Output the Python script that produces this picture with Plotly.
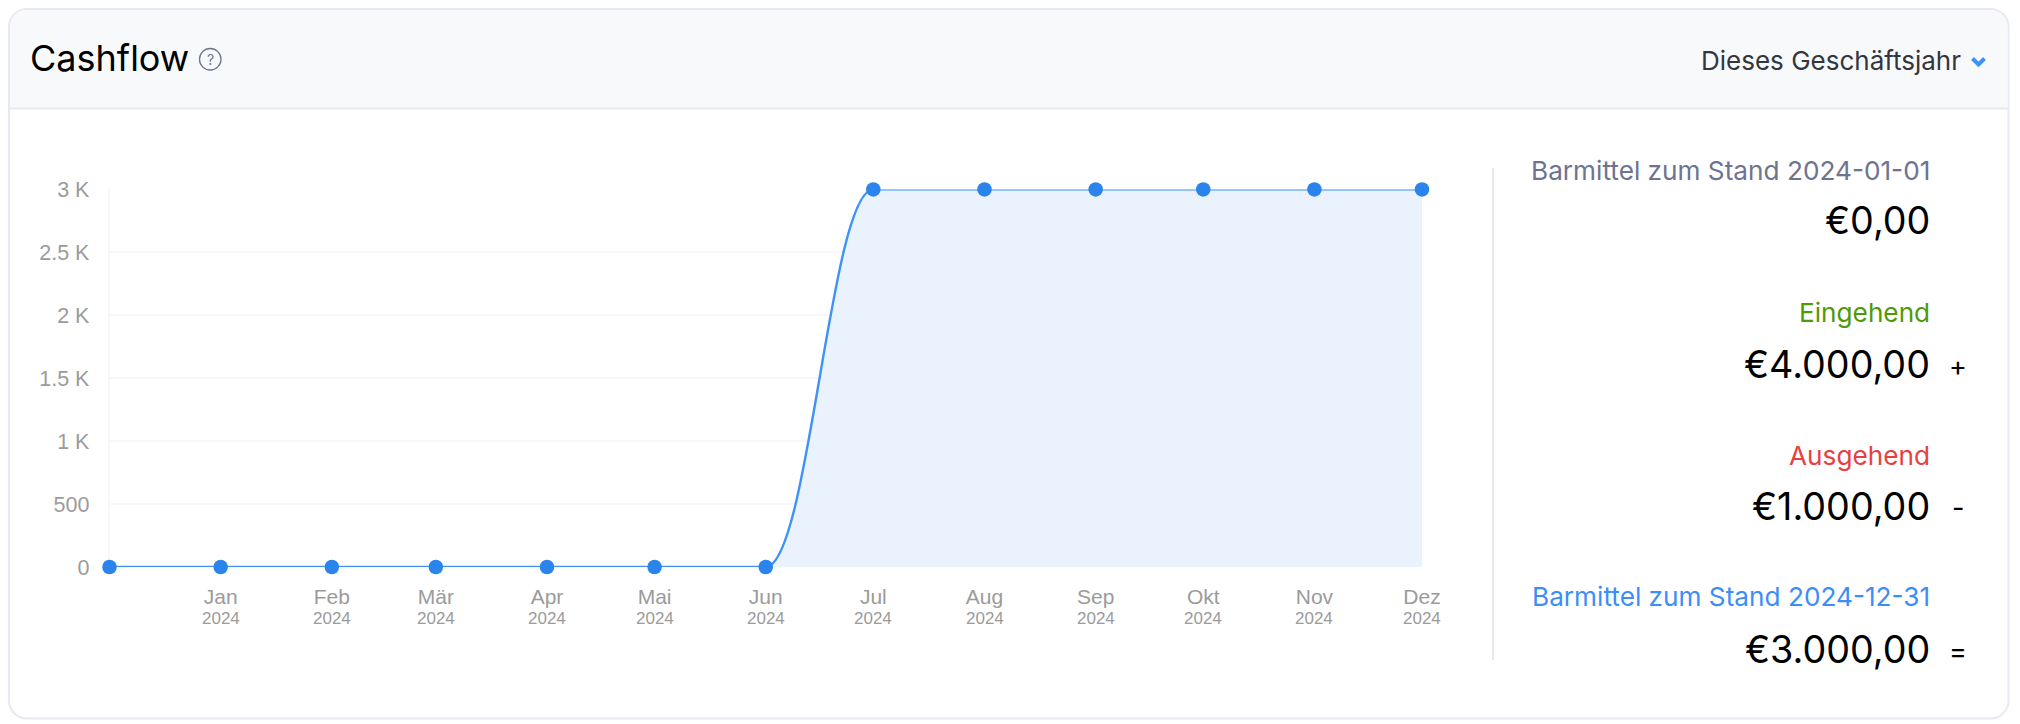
from datetime import datetime, timedelta
import plotly.graph_objects as go

W, H = 2020, 724

# ---------- data ----------
dates = ["2023-12-01", "2024-01-01", "2024-02-01", "2024-03-01", "2024-04-01", "2024-05-01", "2024-06-01",
         "2024-07-01", "2024-08-01", "2024-09-01", "2024-10-01", "2024-11-01", "2024-12-01"]
cash = [0, 0, 0, 0, 0, 0, 0, 3000, 3000, 3000, 3000, 3000, 3000]
tick_dates = dates[1:]
months = ["Jan", "Feb", "Mär", "Apr", "Mai", "Jun", "Jul", "Aug", "Sep", "Okt", "Nov", "Dez"]
tick_year = "2024"
y_ticks = [0, 500, 1000, 1500, 2000, 2500, 3000]
y_labels = ["0", "500", "1 K", "1.5 K", "2 K", "2.5 K", "3 K"]

stat_labels = ["Barmittel zum Stand 2024-01-01", "Eingehend", "Ausgehend", "Barmittel zum Stand 2024-12-31"]
stat_values = ["€0,00", "€4.000,00", "€1.000,00", "€3.000,00"]
stat_ops = ["", "+", "-", "="]
stat_colors = ["#6d7390", "#4f9a06", "#e8403f", "#3b8ef8"]

# ---------- style ----------
LINE = "#3f92f7"
DOT = "#2a84ec"
FILL = "#eaf2fe"
BORDER = "#e8e9f1"
GRID = "#f7f7f8"
TICK = "#9b9b9b"
UI = "Inter"
AX = "Liberation Sans"
HANDLE = 0.4


def px(x):
    return x / W


def py(y):
    return 1 - y / H


def curve_commands():
    """Cubic path through the data with flat-ended segments; coordinates stay in data units."""
    t = [datetime.fromisoformat(d) for d in dates]
    fmt = lambda d: d.strftime("%Y-%m-%d_%H:%M:%S")
    out = []
    for i in range(1, len(t)):
        h = (t[i] - t[i - 1]).total_seconds()
        a = t[i - 1] + timedelta(seconds=h * HANDLE)
        b = t[i] - timedelta(seconds=h * HANDLE)
        out.append(f"C {fmt(a)},{cash[i-1]} {fmt(b)},{cash[i]} {fmt(t[i])},{cash[i]}")
    return " ".join(out)


line_path = f"M {dates[0]}_00:00:00,{cash[0]} " + curve_commands()
area_path = line_path + f" L {dates[-1]}_00:00:00,0 Z"


def rounded(x0, y0, x1, y1, r, top_only=False):
    k = r * 0.45
    p = [f"M {px(x0)},{py(y0 + r)}",
         f"C {px(x0)},{py(y0 + k)} {px(x0 + k)},{py(y0)} {px(x0 + r)},{py(y0)}",
         f"L {px(x1 - r)},{py(y0)}",
         f"C {px(x1 - k)},{py(y0)} {px(x1)},{py(y0 + k)} {px(x1)},{py(y0 + r)}"]
    if top_only:
        p += [f"L {px(x1)},{py(y1)}", f"L {px(x0)},{py(y1)}", "Z"]
    else:
        p += [f"L {px(x1)},{py(y1 - r)}",
              f"C {px(x1)},{py(y1 - k)} {px(x1 - k)},{py(y1)} {px(x1 - r)},{py(y1)}",
              f"L {px(x0 + r)},{py(y1)}",
              f"C {px(x0 + k)},{py(y1)} {px(x0)},{py(y1 - k)} {px(x0)},{py(y1 - r)}", "Z"]
    return " ".join(p)


PANEL = (9, 9, 2008.5, 718.5)
shapes = [
    dict(type="path", xref="paper", yref="paper", path=rounded(*PANEL, 18), fillcolor="#ffffff",
         line=dict(color=BORDER, width=2), layer="below"),
    dict(type="path", xref="paper", yref="paper", path=rounded(10, 10, 2007.5, 108, 17, True), fillcolor="#f8f9fb",
         line=dict(width=0), layer="below"),
    dict(type="line", xref="paper", yref="paper", x0=px(9), x1=px(2008.5), y0=py(108.5), y1=py(108.5),
         line=dict(color=BORDER, width=2), layer="below"),
    dict(type="line", xref="paper", yref="paper", x0=px(1493), x1=px(1493), y0=py(168), y1=py(660),
         line=dict(color=BORDER, width=2), layer="below"),
    dict(type="circle", xref="paper", yref="paper", x0=px(199.5), x1=px(221), y0=py(48.5), y1=py(70),
         line=dict(color="#6d7390", width=1.3), layer="above"),
    dict(type="path", xref="paper", yref="paper",
         path=f"M {px(1972.5)},{py(58.5)} L {px(1978.5)},{py(64.5)} L {px(1984.5)},{py(58.5)}",
         line=dict(color="#3f92fa", width=4), layer="above"),
    dict(type="path", xref="x", yref="y", path=area_path, fillcolor=FILL, line=dict(width=0), layer="between"),
    dict(type="path", xref="x", yref="y", path=line_path, line=dict(color=LINE, width=2.4), layer="between"),
]


def note(text, x, y, size, color, anchor="right", family=UI):
    return dict(text=text, x=px(x), y=py(y), xref="paper", yref="paper", xanchor=anchor, yanchor="middle",
                showarrow=False, font=dict(family=family, size=size, color=color), align=anchor)


annotations = [
    note("Cashflow", 28, 58, 36, "#000000", "left"),
    note("?", 210.3, 59.3, 14, "#6d7390", "center"),
    note("Dieses Geschäftsjahr", 1963, 61, 26, "#33363f"),
]
label_y = [170, 312, 455, 596]
value_y = [220, 364, 506, 649]
op_y = [0, 366, 507, 651]
for lab, val, op, col, ly, vy, oy in zip(stat_labels, stat_values, stat_ops, stat_colors, label_y, value_y, op_y):
    annotations.append(note(lab, 1932, ly, 26.2, col))
    annotations.append(note(val, 1932, vy, 37.7, "#000000"))
    if op:
        annotations.append(note(op, 1958, oy, 27, "#000000", "center"))
for d in tick_dates:
    annotations.append(dict(text=tick_year, x=d, y=py(618), xref="x", yref="paper", xanchor="center", yanchor="middle",
                            showarrow=False, font=dict(family=AX, size=17, color=TICK)))

fig = go.Figure(go.Scatter(
    x=dates, y=cash, mode="markers", cliponaxis=False,
    marker=dict(color=DOT, size=14.5, line=dict(width=0)), hoverinfo="x+y",
))

fig.update_layout(
    width=W, height=H, margin=dict(l=0, r=0, t=0, b=0),
    paper_bgcolor="#ffffff", plot_bgcolor="rgba(0,0,0,0)", showlegend=False,
    shapes=shapes, annotations=annotations,
    xaxis=dict(
        type="date", domain=[px(109.5), px(1422)], range=[dates[0], dates[-1]], automargin=False,
        tickmode="array", tickvals=tick_dates, ticktext=months, layer="below traces",
        showgrid=False, zeroline=False, showline=False, ticks="outside", ticklen=11, tickcolor="rgba(0,0,0,0)",
        tickfont=dict(family=AX, size=21, color=TICK),
    ),
    yaxis=dict(
        domain=[py(567), py(189.4)], range=[0, 3000], automargin=False, layer="below traces",
        tickmode="array", tickvals=y_ticks, ticktext=y_labels,
        showgrid=True, gridcolor=GRID, gridwidth=1.5, zeroline=False,
        showline=True, linecolor=GRID, linewidth=1.5,
        ticks="outside", ticklen=14, tickcolor="rgba(0,0,0,0)",
        tickfont=dict(family=AX, size=21.5, color=TICK),
    ),
)

fig.write_html("out.html", config={"displayModeBar": False},
               post_script="document.body.style.margin='0';document.documentElement.style.overflow='hidden';")
